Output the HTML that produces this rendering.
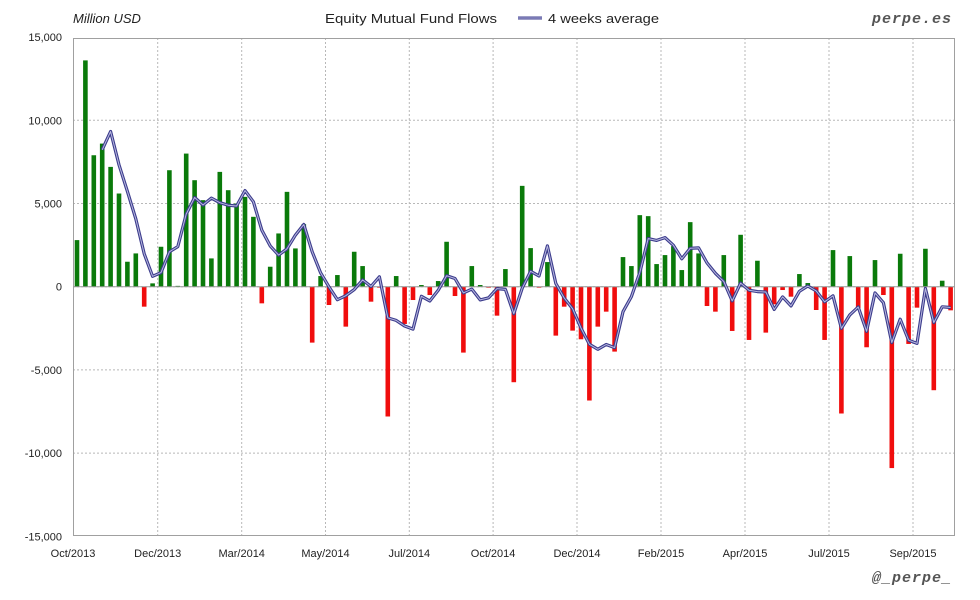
<!DOCTYPE html>
<html><head><meta charset="utf-8"><style>
html,body{margin:0;padding:0;background:#fff;}
svg{display:block;font-family:"Liberation Sans",sans-serif;}
</style></head><body>
<svg id="s" width="980" height="600" xmlns="http://www.w3.org/2000/svg">
<rect width="980" height="600" fill="#fff"/>
<g id="grid" stroke="#b8b8b8" stroke-width="1" stroke-dasharray="2,2"></g>
<rect x="73.5" y="38.5" width="881" height="497" fill="none" stroke="#a0a0a0"/>
<g id="bars"></g>
<line x1="73" y1="286.7" x2="955" y2="286.7" stroke="#999" stroke-width="1"/>
<polyline id="avg1" fill="none" stroke="#3c3c8c" stroke-width="3.2" stroke-linejoin="round"/>
<polyline id="avg2" fill="none" stroke="#b8b8e0" stroke-width="1" stroke-linejoin="round"/>
<g id="ylab" font-size="11" fill="#222" text-anchor="end"></g>
<g id="xlab" font-size="11" fill="#222" text-anchor="middle"></g>
<text x="73" y="23" font-size="13" font-style="italic" fill="#222">Million USD</text>
<text x="325" y="23" font-size="13" fill="#222" textLength="172" lengthAdjust="spacingAndGlyphs">Equity Mutual Fund Flows</text>
<line x1="518" y1="18" x2="542" y2="18" stroke="#3c3c8c" stroke-width="3"/>
<line x1="518" y1="18" x2="542" y2="18" stroke="#b8b8e0" stroke-width="1"/>
<text x="548" y="23" font-size="13" fill="#222" textLength="111" lengthAdjust="spacingAndGlyphs">4 weeks average</text>
<text x="952" y="23" font-size="15" font-style="italic" font-weight="bold" fill="#555" text-anchor="end" font-family="Liberation Mono, monospace" letter-spacing="1">perpe.es</text>
<text x="952" y="582" font-size="15" font-style="italic" font-weight="bold" fill="#555" text-anchor="end" font-family="Liberation Mono, monospace" letter-spacing="1">@_perpe_</text>
</svg>
<script>
var v=[2.8,13.6,7.9,8.6,7.2,5.6,1.5,2.0,-1.2,0.2,2.4,7.0,0.05,8.0,6.4,5.2,1.7,6.9,5.8,5.0,5.4,4.2,-1.0,1.2,3.2,5.7,2.3,3.76,-3.36,0.64,-1.1,0.7,-2.4,2.1,1.24,-0.9,-0.05,-7.8,0.64,-2.24,-0.8,0.1,-0.5,0.34,2.7,-0.56,-3.96,1.24,0.1,-0.06,-1.74,1.06,-5.74,6.06,2.32,-0.06,1.48,-2.94,-1.2,-2.64,-3.16,-6.84,-2.4,-1.5,-3.9,1.78,1.24,4.3,4.24,1.36,1.9,2.44,1.0,3.88,2.0,-1.16,-1.5,1.9,-2.66,3.12,-3.2,1.56,-2.76,-1.06,-0.2,-0.6,0.76,0.22,-1.4,-3.2,2.2,-7.62,1.84,-1.3,-3.64,1.6,-0.5,-10.9,1.98,-3.44,-1.26,2.28,-6.22,0.36,-1.42];
var NS="http://www.w3.org/2000/svg";
function el(t,a,p){var e=document.createElementNS(NS,t);for(var k in a)e.setAttribute(k,a[k]);document.getElementById(p).appendChild(e);return e;}
var y0=286.7,k=83.2/5;
function Y(x){return y0-x*k;}
// grid
[-10,-5,0,5,10].forEach(function(t){el('line',{x1:73,x2:955,y1:Y(t),y2:Y(t)},'grid');});
var xs=[73,157.7,241.7,325.5,409.3,493.1,577,661,745,829,913];
xs.slice(1).forEach(function(x){el('line',{x1:x,x2:x,y1:38,y2:536},'grid');});
var yl=["15,000","10,000","5,000","0","-5,000","-10,000","-15,000"];
yl.forEach(function(s,i){var t=el('text',{x:62,y:Y(15-5*i)+4},'ylab');t.textContent=s;});
var xl=["Oct/2013","Dec/2013","Mar/2014","May/2014","Jul/2014","Oct/2014","Dec/2014","Feb/2015","Apr/2015","Jul/2015","Sep/2015"];
xl.forEach(function(s,i){var t=el('text',{x:xs[i],y:557},'xlab');t.textContent=s;});
var pts=[];
v.forEach(function(d,i){var cx=77+8.4*i;var top=Math.min(Y(d),y0),h=Math.abs(d*k);if(h<1)h=1;
el('rect',{x:cx-2.3,y:top,width:4.6,height:h,fill:d>=0?'#0a7a0a':'#f00d0d'},'bars');
if(i>=3){var m=(v[i]+v[i-1]+v[i-2]+v[i-3])/4;pts.push(cx.toFixed(1)+','+Y(m).toFixed(1));}});
document.getElementById('avg1').setAttribute('points',pts.join(' '));
document.getElementById('avg2').setAttribute('points',pts.join(' '));
</script>
</body></html>
